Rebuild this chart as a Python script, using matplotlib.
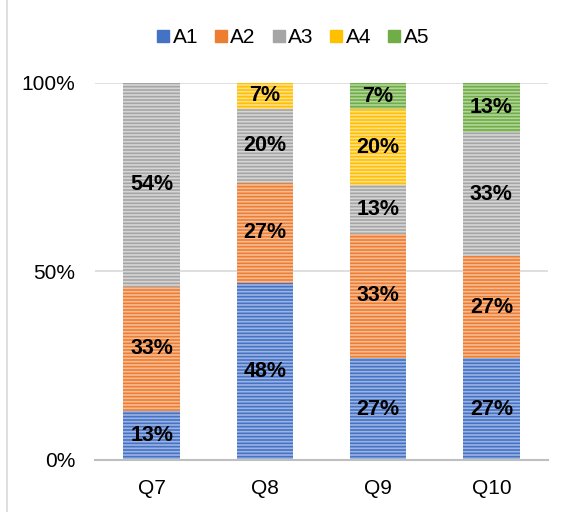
import matplotlib
matplotlib.use('Agg')
import matplotlib.pyplot as plt
import numpy as np
from matplotlib.lines import Line2D

plt.rcParams['font.family'] = ['Liberation Sans', 'DejaVu Sans']
plt.rcParams['hatch.linewidth'] = 1.2

questions = ['Q7', 'Q8', 'Q9', 'Q10']
series = ['A1', 'A2', 'A3', 'A4', 'A5']
values = {
    'A1': [13, 48, 27, 27],
    'A2': [33, 27, 33, 27],
    'A3': [54, 20, 13, 33],
    'A4': [0, 7, 20, 0],
    'A5': [0, 0, 7, 13],
}
colors = {'A1': '#4472C4', 'A2': '#ED7D31', 'A3': '#A5A5A5', 'A4': '#FFC000', 'A5': '#70AD47'}
stripes = {'A1': '#9DB4E3', 'A2': '#F6BC95', 'A3': '#D6D6D6', 'A4': '#FFE08A', 'A5': '#B2D69A'}

data = np.array([values[s] for s in series], dtype=float)
totals = data.sum(axis=0)
share = data / totals * 100

fig = plt.figure(figsize=(5.69, 5.12), dpi=100)
ax = fig.add_axes([0.167, 0.1016, 0.796, 0.7364])

x = np.arange(len(questions))
bottom = np.zeros(len(questions))
for i, s in enumerate(series):
    h = share[i]
    ax.bar(x, h, 0.5, bottom=bottom, color=colors[s], linewidth=0, zorder=2)
    ax.bar(x, h, 0.5, bottom=bottom, color='none', edgecolor=stripes[s],
           hatch='-----', linewidth=0, zorder=3)
    for j in range(len(questions)):
        if data[i, j] > 0:
            ax.text(x[j], bottom[j] + h[j] / 2, '%d%%' % data[i, j], ha='center', va='center',
                    fontsize=15.5, fontweight='bold', color='black', zorder=4)
    bottom += h

ax.set_xlim(-0.5, 3.5)
ax.set_ylim(0, 100)
ax.set_yticks([0, 50, 100])
ax.set_yticklabels(['0%', '50%', '100%'])
ax.set_xticks(x)
ax.set_xticklabels(questions)
ax.tick_params(axis='both', length=0, labelsize=15, colors='#000000')
ax.tick_params(axis='x', pad=14)
ax.tick_params(axis='y', pad=14)
ax.yaxis.grid(True, color='#D9D9D9', linewidth=1.2, zorder=0)
ax.set_axisbelow(True)
for sp in ['top', 'right', 'left']:
    ax.spines[sp].set_visible(False)
ax.spines['bottom'].set_color('#BFBFBF')
ax.spines['bottom'].set_linewidth(1.5)
ax.spines['bottom'].set_zorder(5)

handles = [Line2D([], [], marker='s', linestyle='none', markersize=8,
                  markerfacecolor=colors[s], markeredgecolor=colors[s]) for s in series]
fig.legend(handles, series, loc='center', bbox_to_anchor=(0.515, 0.926), ncol=5, frameon=False,
           fontsize=15, handlelength=0.6, handletextpad=0.15, columnspacing=0.8)

fig.add_artist(Line2D([0.0123, 0.0123], [0, 1], color='#D9D9D9', linewidth=1.2))

fig.savefig('out.png', dpi=100)
